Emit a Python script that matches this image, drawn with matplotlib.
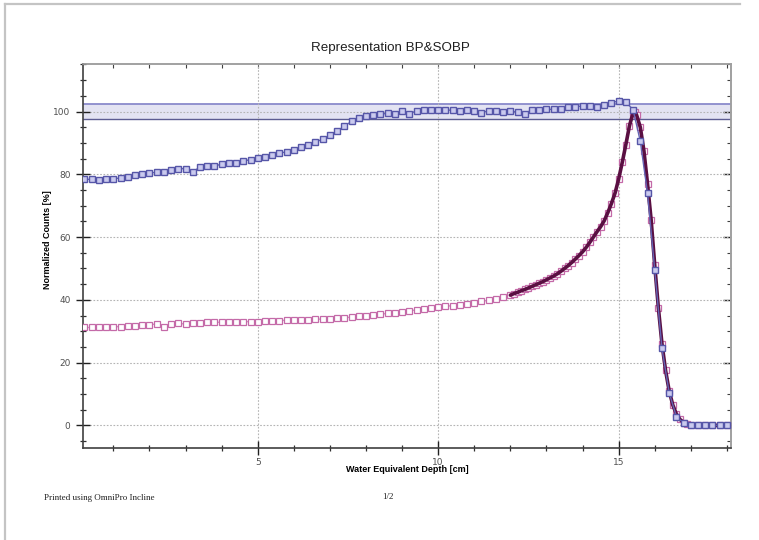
import matplotlib
matplotlib.use("Agg")
import matplotlib.pyplot as plt
from matplotlib.lines import Line2D
from matplotlib.ticker import MultipleLocator, NullFormatter
import numpy as np

# SOBP (spread-out Bragg peak) profile
sobp_depth = [0.2, 0.4, 0.6, 0.8, 1.0, 1.2, 1.4, 1.6, 1.8, 2.0,
              2.2, 2.4, 2.6, 2.8, 3.0, 3.2, 3.4, 3.6, 3.8, 4.0,
              4.2, 4.4, 4.6, 4.8, 5.0, 5.2, 5.4, 5.6, 5.8, 6.0,
              6.2, 6.4, 6.6, 6.8, 7.0, 7.2, 7.4, 7.6, 7.8, 8.0,
              8.2, 8.4, 8.6, 8.8, 9.0, 9.2, 9.4, 9.6, 9.8, 10.0,
              10.2, 10.4, 10.6, 10.8, 11.0, 11.2, 11.4, 11.6, 11.8, 12.0,
              12.2, 12.4, 12.6, 12.8, 13.0, 13.2, 13.4, 13.6, 13.8, 14.0,
              14.2, 14.4, 14.6, 14.8, 15.0, 15.2, 15.4, 15.6, 15.8, 16.0,
              16.2, 16.4, 16.6, 16.8, 17.0, 17.2, 17.4, 17.6, 17.8, 18.0]
sobp_counts = [78.4, 78.4, 78.3, 78.4, 78.5, 78.9, 79.3, 79.8, 80.2, 80.5,
               80.6, 80.7, 81.5, 81.8, 81.8, 80.8, 82.3, 82.5, 82.7, 83.2,
               83.5, 83.7, 84.2, 84.7, 85.2, 85.6, 86.1, 86.7, 87.2, 87.9,
               88.6, 89.4, 90.3, 91.2, 92.5, 93.8, 95.3, 96.9, 98.1, 98.5,
               98.8, 99.2, 99.4, 99.3, 100.2, 99.2, 100.3, 100.4, 100.4, 100.4,
               100.5, 100.4, 100.3, 100.4, 100.3, 99.6, 100.3, 100.2, 99.8, 100.1,
               99.8, 99.3, 100.6, 100.6, 100.7, 100.7, 100.7, 101.5, 101.6, 101.7,
               101.8, 101.5, 102.2, 102.8, 103.4, 103.0, 100.6, 90.5, 74.0, 49.5,
               24.5, 10.4, 2.8, 0.8, 0.2, 0.1, 0.0, 0.0, 0.0, 0.0]

# Pristine Bragg peak profile
bp_depth = [0.2, 0.4, 0.6, 0.8, 1.0, 1.2, 1.4, 1.6, 1.8, 2.0,
            2.2, 2.4, 2.6, 2.8, 3.0, 3.2, 3.4, 3.6, 3.8, 4.0,
            4.2, 4.4, 4.6, 4.8, 5.0, 5.2, 5.4, 5.6, 5.8, 6.0,
            6.2, 6.4, 6.6, 6.8, 7.0, 7.2, 7.4, 7.6, 7.8, 8.0,
            8.2, 8.4, 8.6, 8.8, 9.0, 9.2, 9.4, 9.6, 9.8, 10.0,
            10.2, 10.4, 10.6, 10.8, 11.0, 11.2, 11.4, 11.6, 11.8, 12.0,
            12.1, 12.2, 12.3, 12.4, 12.5, 12.6, 12.7, 12.8, 12.9, 13.0,
            13.1, 13.2, 13.3, 13.4, 13.5, 13.6, 13.7, 13.8, 13.9, 14.0,
            14.1, 14.2, 14.3, 14.4, 14.5, 14.6, 14.7, 14.8, 14.9, 15.0,
            15.1, 15.2, 15.3, 15.4, 15.45, 15.5, 15.6, 15.7, 15.8, 15.9,
            16.0, 16.1, 16.2, 16.3, 16.4, 16.5, 16.6, 16.7, 16.8, 16.9,
            17.0, 17.2, 17.4, 17.6, 17.8, 18.0]
bp_counts = [31.2, 31.2, 31.3, 31.3, 31.4, 31.5, 31.7, 31.8, 32.0, 32.1,
             32.3, 31.4, 32.4, 32.5, 32.3, 32.6, 32.7, 32.8, 32.8, 32.9,
             32.9, 33.0, 33.0, 33.1, 33.1, 33.2, 33.3, 33.4, 33.5, 33.5,
             33.6, 33.7, 33.8, 33.9, 34.0, 34.1, 34.3, 34.5, 34.7, 34.9,
             35.1, 35.4, 35.7, 35.9, 36.2, 36.5, 36.8, 37.1, 37.4, 37.6,
             37.9, 38.2, 38.5, 38.8, 39.1, 39.5, 39.9, 40.3, 40.8, 41.5,
             42.0, 42.4, 42.9, 43.3, 43.8, 44.3, 44.8, 45.3, 45.8, 46.4,
             47.0, 47.6, 48.3, 49.1, 50.0, 50.9, 51.9, 53.0, 54.1, 55.3,
             56.7, 58.3, 60.0, 61.7, 63.3, 65.2, 67.8, 70.7, 74.0, 78.5,
             83.8, 89.5, 95.5, 99.6, 100.0, 98.8, 95.0, 87.5, 77.0, 65.5,
             51.0, 37.5, 26.0, 17.5, 11.0, 6.5, 3.6, 1.9, 0.9, 0.4,
             0.2, 0.1, 0.0, 0.0, 0.0, 0.0]

# tolerance band around 100 %
band_low, band_high = 97.5, 102.5

fig = plt.figure(figsize=(7.59, 5.40), dpi=100)
fig.patch.set_facecolor('white')
ax = fig.add_axes([0.1094, 0.1704, 0.8531, 0.7102])

ax.axhspan(band_low, band_high, facecolor='#e3e3f2', edgecolor='none', zorder=0)
ax.axhline(band_high, color='#8a8acb', lw=1.3, zorder=1)
ax.axhline(band_low, color='#5c5c92', lw=1.0, zorder=1)

ax.grid(True, which='major', color='#b4b4b4', linestyle=(0, (1.5, 1.5)), lw=0.8, zorder=0.5)

bp_x = np.array(bp_depth)
bp_y = np.array(bp_counts)
ax.plot(bp_x, bp_y, color='#cf98c2', lw=1.0, zorder=2)
ax.plot(bp_x, bp_y, ls='none', marker='s', ms=4.0, mfc='white', mec='#c46aa8',
        mew=0.9, zorder=3)
peak_part = bp_x >= 12.0
ax.plot(bp_x[peak_part], bp_y[peak_part], color='#5a0f42', lw=2.6, zorder=4,
        solid_capstyle='round')

ax.plot(sobp_depth, sobp_counts, color='#6464b4', lw=1.0, zorder=5)
ax.plot(sobp_depth, sobp_counts, ls='none', marker='s', ms=4.2, mfc='#cacaee',
        mec='#5656a8', mew=1.0, zorder=6)

ax.set_xlim(0.16, 18.1)
ax.set_ylim(-7.2, 115)
ax.xaxis.set_major_locator(MultipleLocator(5))
ax.xaxis.set_minor_locator(MultipleLocator(1))
ax.yaxis.set_major_locator(MultipleLocator(20))
ax.yaxis.set_minor_locator(MultipleLocator(5))

ax.tick_params(axis='both', which='major', direction='inout', length=10, width=1.0,
               color='#202020', labelsize=6.5, labelcolor='#505050')
ax.tick_params(axis='both', which='minor', direction='inout', length=5, width=0.9,
               color='#303030')
ax.tick_params(axis='x', which='major', pad=2)
ax.tick_params(axis='y', which='major', pad=4)

# top and right: inward ticks only
top = ax.secondary_xaxis('top')
top.xaxis.set_major_locator(MultipleLocator(5))
top.xaxis.set_minor_locator(MultipleLocator(1))
top.xaxis.set_major_formatter(NullFormatter())
top.tick_params(which='major', direction='in', length=3, width=0.8, color='#606060')
top.tick_params(which='minor', direction='in', length=3, width=0.8, color='#404040')
top.spines['top'].set_color('#a8a8a8')
top.spines['top'].set_linewidth(1.2)

right = ax.secondary_yaxis('right')
right.yaxis.set_major_locator(MultipleLocator(20))
right.yaxis.set_minor_locator(MultipleLocator(5))
right.yaxis.set_major_formatter(NullFormatter())
right.tick_params(which='major', direction='in', length=6, width=1.0, color='#202020')
right.tick_params(which='minor', direction='in', length=3, width=0.8, color='#404040')
right.spines['right'].set_color('#a0a0a0')
right.spines['right'].set_linewidth(1.2)

for side in ['left', 'bottom']:
    ax.spines[side].set_color('#404040')
    ax.spines[side].set_linewidth(1.2)
for side in ['top', 'right']:
    ax.spines[side].set_color('#a0a0a0')
    ax.spines[side].set_linewidth(1.2)

fig.text(390 / 759, 1 - 48 / 540, 'Representation BP&SOBP', ha='center', va='center',
         fontsize=9.6, family='Liberation Sans', color='#202020')
fig.text(407 / 759, 1 - 470 / 540, 'Water Equivalent Depth [cm]', ha='center', va='center',
         fontsize=6.5, fontweight='bold', family='Liberation Sans')
fig.text(47 / 759, 1 - 240 / 540, 'Normalized Counts [%]', ha='center', va='center',
         rotation=90, fontsize=6.5, fontweight='bold', family='Liberation Sans')
fig.text(44 / 759, 1 - 498 / 540, 'Printed using OmniPro Incline', ha='left', va='center',
         fontsize=6.5, family='Liberation Serif', color='#202020')
fig.text(388 / 759, 1 - 497 / 540, '1/2', ha='center', va='center',
         fontsize=6.5, family='Liberation Serif', color='#202020')

# page border of the printout
fig.add_artist(Line2D([5 / 759, 740 / 759], [1 - 4 / 540, 1 - 4 / 540],
                      transform=fig.transFigure, color='#c4c4c4', lw=1.6))
fig.add_artist(Line2D([5 / 759, 5 / 759], [1 - 4 / 540, 0],
                      transform=fig.transFigure, color='#c4c4c4', lw=1.6))

fig.savefig('out.png', dpi=100)
